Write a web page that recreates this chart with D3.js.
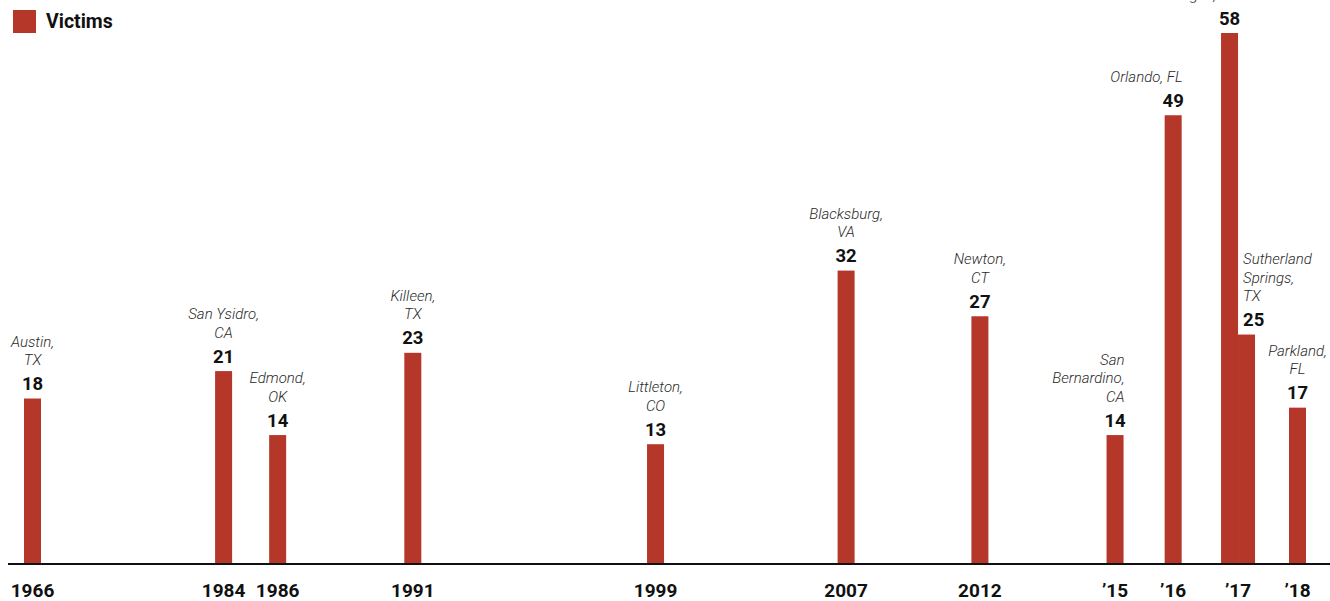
<!DOCTYPE html>
<html>
<head>
<meta charset="utf-8">
<script src="https://cdn.jsdelivr.net/npm/d3@7"></script>
<style>
  html, body { margin: 0; padding: 0; background: #fff; }
  svg { display: block; }
  .val { font-family: Roboto, "Noto Sans", sans-serif; font-weight: 700; font-size: 18.5px; fill: #111; }
  .place { font-family: Roboto, "Noto Sans", sans-serif; font-weight: 300; font-style: italic; font-size: 15px; fill: #2a2a2a; }
  .axis text { font-family: Roboto, "Noto Sans", sans-serif; font-weight: 700; font-size: 19px; fill: #111; }
  .legend { font-family: Roboto, "Noto Sans", sans-serif; font-weight: 700; font-size: 19.5px; fill: #111; }
</style>
</head>
<body>
<div id="chart"></div>
<script>
(function () {

    // axis categories (broken timeline, so each year gets a slot position)
    var years = [1966, 1984, 1986, 1991, 1999, 2007, 2012, 2015, 2016, 2017, 2018];
    var yearLabels = ["1966", "1984", "1986", "1991", "1999", "2007", "2012", "\u201915", "\u201916", "\u201917", "\u201918"];
    var yearSlots = [0, 7.07, 9.07, 14.07, 23.05, 30.1, 35.05, 40.05, 42.2, 44.6, 46.8];

    // shootings
    var eventYears = [1966, 1984, 1986, 1991, 1999, 2007, 2012, 2015, 2016, 2017, 2017, 2018];
    var victims = [18, 21, 14, 23, 13, 32, 27, 14, 49, 58, 25, 17];
    var places = ["Austin,|TX", "San Ysidro,|CA", "Edmond,|OK", "Killeen,|TX", "Littleton,|CO",
        "Blacksburg,|VA", "Newton,|CT", "San|Bernardino,|CA", "Orlando, FL", "Las Vegas, NV",
        "Sutherland|Springs,|TX", "Parkland,|FL"];
    var labelAlign = ["middle", "middle", "middle", "middle", "middle", "middle", "middle",
        "end", "end", "end", "start", "middle"];

    var color = "#b4372a";
    var width = 1330, height = 601;
    var baseY = 563, topY = 33, barW = 17;

    var svg = d3.select("#chart").append("svg")
        .attr("width", width)
        .attr("height", height);

    // slot -> pixel, then year -> pixel via the slot table
    var slotScale = d3.scaleLinear().domain([0, d3.max(yearSlots)]).range([32.5, 1297.5]);
    var x = d3.scaleOrdinal().domain(years).range(yearSlots.map(slotScale));

    var y = d3.scaleLinear().domain([0, d3.max(victims)]).range([baseY, topY]);

    //build the rows, with index inside each year for side by side bars
    var data = eventYears.map(function (yr, i) {
        return { year: yr, value: victims[i], place: places[i], align: labelAlign[i] };
    });
    var counts = d3.rollup(data, function (v) { return v.length; }, function (d) { return d.year; });
    var seen = {};
    data.forEach(function (d) {
        var n = counts.get(d.year);
        var k = seen[d.year] || 0;
        seen[d.year] = k + 1;
        var inner = d3.scaleBand().domain(d3.range(n))
            .range([x(d.year) - n * barW / 2, x(d.year) + n * barW / 2]);
        d.x0 = inner(k);
        d.x1 = inner(k) + inner.bandwidth();
    });

    // bars
    svg.append("g").selectAll("rect")
        .data(data)
        .enter().append("rect")
        .attr("x", function (d) { return d.x0; })
        .attr("width", function (d) { return d.x1 - d.x0; })
        .attr("y", function (d) { return y(d.value); })
        .attr("height", function (d) { return baseY - y(d.value); })
        .attr("fill", color);

    function anchorX(d) {
        if (d.align === "end") return d.x1 + 1;
        if (d.align === "start") return d.x0 + 5;
        return (d.x0 + d.x1) / 2;
    }

    var labels = svg.append("g").selectAll("g")
        .data(data)
        .enter().append("g");

    // value
    labels.append("text")
        .attr("class", "val")
        .attr("x", function (d) { return d.align === "start" ? anchorX(d) : (d.x0 + d.x1) / 2; })
        .attr("y", function (d) { return y(d.value) - 8.5; })
        .attr("text-anchor", function (d) { return d.align === "start" ? "start" : "middle"; })
        .text(function (d) { return d.value; });

    // place name, bottom line sits 25px above the value
    labels.each(function (d) {
        var lines = d.place.split("|");
        var last = y(d.value) - 8.5 - 25;
        var t = d3.select(this).append("text")
            .attr("class", "place")
            .attr("text-anchor", d.align);
        lines.forEach(function (ln, i) {
            t.append("tspan")
                .attr("x", anchorX(d))
                .attr("y", last - (lines.length - 1 - i) * 18.5)
                .text(ln);
        });
    });

    // baseline
    svg.append("line")
        .attr("x1", 8).attr("x2", width)
        .attr("y1", baseY + 1).attr("y2", baseY + 1)
        .attr("stroke", "#111")
        .attr("stroke-width", 2);

    // axis labels
    var axis = d3.axisBottom(d3.scalePoint().domain(years).range([0, 1]))
        .tickSize(0)
        .tickFormat(function (d, i) { return yearLabels[i]; });
    var ax = svg.append("g").attr("class", "axis")
        .attr("transform", "translate(0," + (baseY + 1) + ")")
        .call(axis);
    ax.select(".domain").remove();
    ax.selectAll(".tick")
        .attr("transform", function (d) { return "translate(" + x(d) + ",0)"; });
    ax.selectAll(".tick text")
        .attr("y", 33)
        .attr("dy", 0);

    // legend
    var lg = svg.append("g").attr("transform", "translate(13,10)");
    lg.append("rect").attr("width", 23).attr("height", 23).attr("fill", color);
    lg.append("text").attr("class", "legend").attr("x", 33).attr("y", 18).text("Victims");

})();
</script>
</body>
</html>
